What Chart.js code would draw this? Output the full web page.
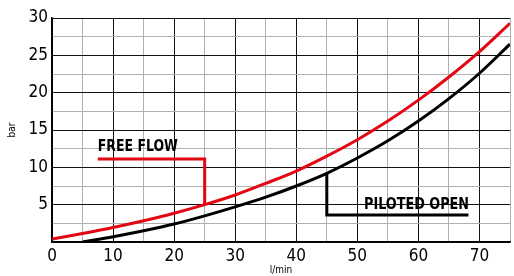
<!DOCTYPE html>
<html>
<head>
<meta charset="utf-8">
<script src="https://cdn.jsdelivr.net/npm/chart.js@4/dist/chart.umd.min.js"></script>
<style>
  html, body { margin: 0; padding: 0; background: #fff; }
  #wrap { width: 514px; height: 276px; }
</style>
</head>
<body>
<div id="wrap"><canvas id="myChart" width="514" height="276"></canvas></div>
<script>
// Caudal (l/min) y presion (bar)
const freeFlowX = [0, 5, 10, 15, 20, 25, 30, 35, 40, 45, 50, 55, 60, 65, 70, 75];
const freeFlowY = [0.4, 1.15, 1.95, 2.85, 3.85, 5.0, 6.3, 7.85, 9.5, 11.5, 13.7, 16.2, 19.0, 22.1, 25.5, 29.3];
const pilotedX = [5, 10, 15, 20, 25, 30, 35, 40, 45, 50, 55, 60, 65, 70, 75];
const pilotedY = [0, 0.7, 1.5, 2.4, 3.5, 4.7, 6.0, 7.5, 9.2, 11.25, 13.55, 16.2, 19.2, 22.6, 26.5];

// Lineas de las etiquetas
const freeFlowTagX = [7.5, 25, 25];
const freeFlowTagY = [11.1, 11.1, 5.0];
const pilotedTagX = [45, 45, 68.2];
const pilotedTagY = [9.2, 3.6, 3.6];

const xTicks = [0, 10, 20, 30, 40, 50, 60, 70];
const yTicks = [5, 10, 15, 20, 25, 30];

const labels = [
  { text: 'FREE FLOW', x: 7.5, y: 12.2 },
  { text: 'PILOTED OPEN', x: 51.1, y: 4.4 }
];

const RED = '#e30613';
const BLACK = '#000000';
const FAMILY = "'DejaVu Sans Condensed', 'DejaVu Sans', sans-serif";

function puntos(xs, ys) {
  return xs.map((x, i) => ({ x: x, y: ys[i] }));
}

// Plugin para escribir los textos dentro del grafico (letra estrecha)
const textos = {
  id: 'textos',
  afterDatasetsDraw(chart) {
    const ctx = chart.ctx;
    const sx = chart.scales.x, sy = chart.scales.y;
    ctx.save();
    ctx.font = 'bold 16px ' + FAMILY;
    ctx.fillStyle = '#000';
    ctx.textBaseline = 'alphabetic';
    ctx.textAlign = 'left';
    labels.forEach(l => {
      const px = sx.getPixelForValue(l.x), py = sy.getPixelForValue(l.y);
      const w = ctx.measureText(l.text).width;
      const objetivo = l.text === 'FREE FLOW' ? 80 : 105;
      ctx.save();
      ctx.translate(px, py);
      ctx.scale(objetivo / w, 1);
      ctx.fillText(l.text, 0, 0);
      ctx.restore();
    });
    ctx.restore();
  }
};

const ctx = document.getElementById('myChart').getContext('2d');

new Chart(ctx, {
  type: 'scatter',
  data: {
    datasets: [
      { data: puntos(freeFlowX, freeFlowY), borderColor: RED, borderWidth: 3, showLine: true, cubicInterpolationMode: 'monotone', pointRadius: 0 },
      { data: puntos(pilotedX, pilotedY), borderColor: BLACK, borderWidth: 3, showLine: true, cubicInterpolationMode: 'monotone', pointRadius: 0 },
      { data: puntos(freeFlowTagX, freeFlowTagY), borderColor: RED, borderWidth: 3, showLine: true, tension: 0, pointRadius: 0 },
      { data: puntos(pilotedTagX, pilotedTagY), borderColor: BLACK, borderWidth: 3, showLine: true, tension: 0, pointRadius: 0 }
    ]
  },
  options: {
    responsive: false,
    animation: false,
    layout: { padding: { top: 18, right: 0, left: 0, bottom: 0 } },
    plugins: { legend: { display: false }, tooltip: { enabled: false } },
    scales: {
      x: {
        type: 'linear',
        min: 0, max: 75,
        afterFit: s => { s.height = 34; },
        border: { color: '#000', width: 1.5 },
        grid: {
          color: c => (c.tick.value % 10 === 0 ? '#111' : '#b0b0b0'),
          lineWidth: 1,
          drawTicks: false
        },
        ticks: {
          stepSize: 5,
          autoSkip: false,
          maxRotation: 0,
          padding: 4,
          color: '#000',
          font: { family: FAMILY, size: 17 },
          callback: v => (xTicks.includes(v) ? String(v) : '')
        },
        title: { display: true, text: 'l/min', color: '#000', font: { family: FAMILY, size: 10 }, padding: 0 }
      },
      y: {
        min: 0, max: 30,
        afterFit: s => { s.width = 52; },
        border: { color: '#000', width: 1.5 },
        grid: {
          color: c => (c.tick.value % 5 === 0 ? '#111' : '#b0b0b0'),
          lineWidth: 1,
          drawTicks: false
        },
        ticks: {
          stepSize: 2.5,
          autoSkip: false,
          padding: 4,
          color: '#000',
          font: { family: FAMILY, size: 17 },
          callback: v => (yTicks.includes(v) ? String(v) : '')
        },
        title: { display: true, text: 'bar', color: '#000', font: { family: FAMILY, size: 10 }, padding: { top: 6, bottom: 0 } }
      }
    }
  },
  plugins: [textos]
});
</script>
</body>
</html>
